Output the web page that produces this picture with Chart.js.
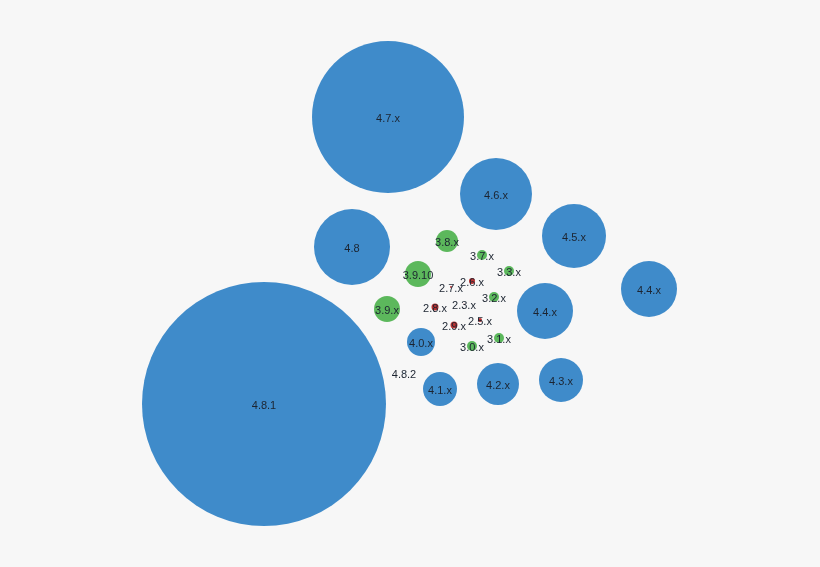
<!DOCTYPE html>
<html>
<head>
<meta charset="utf-8">
<script src="https://cdn.jsdelivr.net/npm/chart.js@4"></script>
<style>
  html, body { margin: 0; padding: 0; background: #f7f7f7; }
  #wrap { width: 820px; height: 567px; }
</style>
</head>
<body>
<div id="wrap"><canvas id="bubbles" width="820" height="567"></canvas></div>
<script>
// packed bubble layout
const names  = ['4.7.x', '4.8.1', '4.6.x', '4.8', '4.5.x', '4.4.x', '4.4.x', '4.3.x', '4.2.x', '4.1.x', '4.0.x', '4.8.2',
                '3.8.x', '3.9.10', '3.9.x', '3.7.x', '3.3.x', '3.2.x', '3.1.x', '3.0.x',
                '2.6.x', '2.7.x', '2.8.x', '2.3.x', '2.9.x', '2.5.x'];
const xs     = [388, 264, 496, 352, 574, 649, 545, 561, 498, 440, 421, 404,
                447, 418, 387, 482, 509, 494, 499, 472,
                472, 451, 435, 464, 454, 480];
const ys     = [117, 404, 194, 247, 236, 289, 311, 380, 384, 389, 342, 373,
                241, 274, 309, 255, 271, 297, 338, 346,
                281, 287, 307, 304, 325, 320];
const sizes  = [76, 122, 36, 38, 32, 28, 28, 22, 21, 17, 14, 0.5,
                11, 13, 13, 5, 5, 5, 5, 5,
                3, 1, 3.5, 0.5, 3.5, 2];
const groups = ['4', '4', '4', '4', '4', '4', '4', '4', '4', '4', '4', '4',
                '3', '3', '3', '3', '3', '3', '3', '3',
                '2', '2', '2', '2', '2', '2'];

const groupColor = { '4': '#3f8bca', '3': '#5cb85c', '2': '#b83232' };

const points = names.map((n, i) => ({ x: xs[i], y: ys[i], r: sizes[i], label: n }));

const labelPlugin = {
  id: 'bubbleLabels',
  afterDatasetsDraw(chart) {
    const c = chart.ctx;
    c.save();
    c.font = '11px "Liberation Sans", Arial, sans-serif';
    c.fillStyle = '#1c2430';
    c.textAlign = 'center';
    c.textBaseline = 'middle';
    chart.getDatasetMeta(0).data.forEach((el, i) => {
      c.fillText(names[i], el.x, el.y + 1.5);
    });
    c.restore();
  }
};

new Chart(document.getElementById('bubbles'), {
  type: 'bubble',
  data: {
    datasets: [{
      data: points,
      backgroundColor: groups.map(g => groupColor[g]),
      borderWidth: 0,
      hoverBorderWidth: 0,
      clip: false
    }]
  },
  options: {
    responsive: false,
    animation: false,
    layout: { padding: 0, autoPadding: false },
    plugins: { legend: { display: false }, tooltip: { enabled: false } },
    scales: {
      x: { type: 'linear', min: 0, max: 820, display: false },
      y: { type: 'linear', min: 0, max: 567, reverse: true, display: false }
    }
  },
  plugins: [labelPlugin]
});
</script>
</body>
</html>
